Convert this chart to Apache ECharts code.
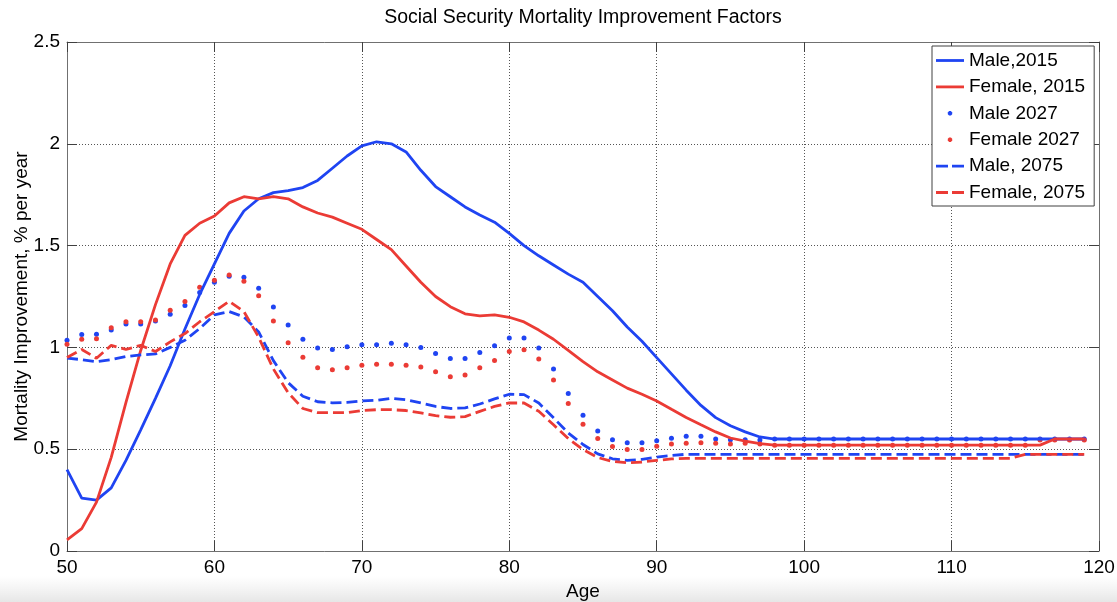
<!DOCTYPE html>
<html>
<head>
<meta charset="utf-8">
<title>Social Security Mortality Improvement Factors</title>
<script src="https://cdn.jsdelivr.net/npm/echarts@6/dist/echarts.min.js"></script>
<style>
  html, body { margin: 0; padding: 0; background: #ffffff; }
  #chart { width: 1117px; height: 602px; }
</style>
</head>
<body>
<div id="chart"></div>
<script>
// Ages (x axis)
const ages = [
  50, 51, 52, 53, 54, 55, 56, 57, 58, 59,
  60, 61, 62, 63, 64, 65, 66, 67, 68, 69,
  70, 71, 72, 73, 74, 75, 76, 77, 78, 79,
  80, 81, 82, 83, 84, 85, 86, 87, 88, 89,
  90, 91, 92, 93, 94, 95, 96, 97, 98, 99,
  100, 101, 102, 103, 104, 105, 106, 107, 108, 109,
  110, 111, 112, 113, 114, 115, 116, 117, 118, 119
];

// Mortality improvement, % per year
const male2015 = [
  0.40, 0.26, 0.25, 0.31, 0.445, 0.595, 0.75, 0.91, 1.09, 1.26,
  1.41, 1.56, 1.67, 1.73, 1.76, 1.77, 1.785, 1.82, 1.88, 1.94,
  1.99, 2.01, 2.00, 1.96, 1.87, 1.79, 1.74, 1.69, 1.65, 1.615,
  1.56, 1.50, 1.45, 1.405, 1.36, 1.32, 1.25, 1.18, 1.10, 1.03,
  0.95, 0.87, 0.79, 0.715, 0.655, 0.615, 0.585, 0.56, 0.55, 0.55,
  0.55, 0.55, 0.55, 0.55, 0.55, 0.55, 0.55, 0.55, 0.55, 0.55,
  0.55, 0.55, 0.55, 0.55, 0.55, 0.55, 0.55, 0.55, 0.55, 0.55
];
const female2015 = [
  0.055, 0.11, 0.24, 0.46, 0.73, 0.985, 1.21, 1.41, 1.55, 1.61,
  1.645, 1.71, 1.74, 1.73, 1.74, 1.73, 1.69, 1.66, 1.64, 1.61,
  1.58, 1.53, 1.48, 1.40, 1.32, 1.25, 1.20, 1.165, 1.155, 1.16,
  1.148, 1.125, 1.085, 1.04, 0.985, 0.93, 0.88, 0.84, 0.80, 0.77,
  0.737, 0.696, 0.656, 0.62, 0.585, 0.555, 0.54, 0.527, 0.52, 0.52,
  0.52, 0.52, 0.52, 0.52, 0.52, 0.52, 0.52, 0.52, 0.52, 0.52,
  0.52, 0.52, 0.52, 0.52, 0.52, 0.52, 0.52, 0.55, 0.55, 0.55
];
const male2027 = [
  1.035, 1.063, 1.065, 1.085, 1.115, 1.115, 1.13, 1.163, 1.206, 1.27,
  1.32, 1.35, 1.345, 1.29, 1.198, 1.11, 1.04, 0.997, 0.99, 1.003,
  1.013, 1.013, 1.02, 1.013, 1.0, 0.97, 0.946, 0.946, 0.975, 1.008,
  1.046, 1.046, 0.997, 0.894, 0.774, 0.667, 0.59, 0.547, 0.532, 0.532,
  0.542, 0.554, 0.563, 0.563, 0.55, 0.547, 0.547, 0.545, 0.55, 0.55,
  0.55, 0.55, 0.55, 0.55, 0.55, 0.55, 0.55, 0.55, 0.55, 0.55,
  0.55, 0.55, 0.55, 0.55, 0.55, 0.55, 0.55, 0.55, 0.55, 0.55
];
const female2027 = [
  1.015, 1.04, 1.043, 1.096, 1.126, 1.126, 1.135, 1.183, 1.226, 1.296,
  1.33, 1.355, 1.325, 1.254, 1.13, 1.023, 0.952, 0.90, 0.89, 0.90,
  0.912, 0.917, 0.917, 0.912, 0.904, 0.88, 0.856, 0.864, 0.90, 0.936,
  0.98, 0.989, 0.943, 0.84, 0.725, 0.622, 0.552, 0.513, 0.498, 0.498,
  0.515, 0.526, 0.529, 0.532, 0.529, 0.526, 0.529, 0.525, 0.52, 0.52,
  0.52, 0.52, 0.52, 0.52, 0.52, 0.52, 0.52, 0.52, 0.52, 0.52,
  0.52, 0.52, 0.52, 0.52, 0.52, 0.52, 0.545, 0.545, 0.545, 0.545
];
const male2075 = [
  0.947, 0.94, 0.93, 0.94, 0.955, 0.963, 0.968, 1.0, 1.035, 1.093,
  1.16, 1.176, 1.15, 1.076, 0.935, 0.827, 0.76, 0.733, 0.728, 0.73,
  0.737, 0.74, 0.75, 0.743, 0.727, 0.71, 0.70, 0.703, 0.722, 0.747,
  0.77, 0.768, 0.727, 0.654, 0.58, 0.523, 0.477, 0.453, 0.445, 0.45,
  0.461, 0.469, 0.475, 0.475, 0.475, 0.475, 0.475, 0.475, 0.475, 0.475,
  0.475, 0.475, 0.475, 0.475, 0.475, 0.475, 0.475, 0.475, 0.475, 0.475,
  0.475, 0.475, 0.475, 0.475, 0.475, 0.475, 0.475, 0.475, 0.475, 0.475
];
const female2075 = [
  0.95, 0.99, 0.947, 1.01, 0.99, 1.01, 0.98, 1.027, 1.068, 1.126,
  1.176, 1.226, 1.176, 1.05, 0.894, 0.777, 0.70, 0.68, 0.68, 0.68,
  0.69, 0.694, 0.694, 0.69, 0.678, 0.665, 0.657, 0.66, 0.686, 0.71,
  0.727, 0.727, 0.686, 0.62, 0.552, 0.498, 0.459, 0.44, 0.433, 0.437,
  0.445, 0.452, 0.455, 0.455, 0.455, 0.455, 0.455, 0.455, 0.455, 0.455,
  0.455, 0.455, 0.455, 0.455, 0.455, 0.455, 0.455, 0.455, 0.455, 0.455,
  0.455, 0.455, 0.455, 0.455, 0.455, 0.475, 0.475, 0.475, 0.475, 0.475
];

const seriesNames = ['Male,2015', 'Female, 2015', 'Male 2027', 'Female 2027', 'Male, 2075', 'Female, 2075'];
const xTicks = { min: 50, max: 120, step: 10 };
const yTicks = { min: 0, max: 2.5, step: 0.5 };

const BLUE = '#1f44f2';
const RED = '#eb3b35';
const FONT = '"Liberation Sans", Arial, Helvetica, sans-serif';

const pairs = (vals) => ages.map((a, i) => [a, vals[i]]);

// Legend glyphs: the two zero-length corner points fix a 28x6 box
const BOX = 'M0,0L0,0M28,6L28,6';
const ICON_SOLID = 'path://' + BOX + 'M0,1.6H28V4.4H0Z';
const ICON_DASH = 'path://' + BOX + 'M0,1.6H12V4.4H0ZM16,1.6H28V4.4H16Z';
const ICON_DOT = 'path://' + BOX + 'M13.1,0.8L14.9,0.8L16.2,2.1L16.2,3.9L14.9,5.2L13.1,5.2L11.8,3.9L11.8,2.1Z';

const chart = echarts.init(document.getElementById('chart'), null, { renderer: 'canvas' });

const lineSeries = (name, vals, color, type) => ({
  name, type: 'line', data: pairs(vals),
  symbol: 'none', showSymbol: false,
  lineStyle: { color, width: 2.8, type },
  itemStyle: { color },
  xAxisIndex: 0, yAxisIndex: 0,
  animation: false, silent: true
});
const dotSeries = (name, vals, color) => ({
  name, type: 'scatter', data: pairs(vals),
  symbol: 'circle', symbolSize: 5,
  itemStyle: { color, opacity: 1 },
  xAxisIndex: 0, yAxisIndex: 0,
  animation: false, silent: true
});

const axisCommon = {
  axisLine: { show: true, onZero: false, lineStyle: { color: '#707070', width: 1 } },
  axisTick: { show: true, inside: true, length: 10, lineStyle: { color: '#404040', width: 1 } }
};

chart.setOption({
  backgroundColor: '#ffffff',
  animation: false,
  textStyle: { fontFamily: FONT },
  title: {
    text: 'Social Security Mortality Improvement Factors',
    left: 583, top: 8, textAlign: 'center', padding: 0,
    textStyle: { fontFamily: FONT, fontSize: 19.5, fontWeight: 'normal', color: '#000' }
  },
  grid: {
    left: 67, right: 18, top: 42, bottom: 51,
    containLabel: false, outerBoundsMode: 'none'
  },
  legend: {
    orient: 'vertical',
    left: 932, top: 46,
    padding: [4, 9, 3, 4],
    itemWidth: 28, itemHeight: 6, itemGap: 5.4,
    backgroundColor: '#ffffff',
    borderColor: '#404040', borderWidth: 1, borderRadius: 0,
    selectedMode: false,
    textStyle: { fontFamily: FONT, fontSize: 19, color: '#000', lineHeight: 21 },
    data: [
      { name: seriesNames[0], icon: ICON_SOLID, itemStyle: { color: BLUE, borderWidth: 0 } },
      { name: seriesNames[1], icon: ICON_SOLID, itemStyle: { color: RED, borderWidth: 0 } },
      { name: seriesNames[2], icon: ICON_DOT, itemStyle: { color: BLUE, borderWidth: 0 } },
      { name: seriesNames[3], icon: ICON_DOT, itemStyle: { color: RED, borderWidth: 0 } },
      { name: seriesNames[4], icon: ICON_DASH, itemStyle: { color: BLUE, borderWidth: 0 } },
      { name: seriesNames[5], icon: ICON_DASH, itemStyle: { color: RED, borderWidth: 0 } }
    ]
  },
  xAxis: [
    Object.assign({
      type: 'value', position: 'bottom',
      min: xTicks.min, max: xTicks.max, interval: xTicks.step,
      name: 'Age', nameLocation: 'middle', nameGap: 31, nameMoveOverlap: false,
      nameTextStyle: { fontFamily: FONT, fontSize: 19, color: '#000' },
      axisLabel: { show: true, margin: 7, fontFamily: FONT, fontSize: 19, color: '#000' },
      splitLine: { show: true, lineStyle: { color: '#555', width: 1, type: [1, 2] } }
    }, axisCommon),
    Object.assign({
      type: 'value', position: 'top',
      min: xTicks.min, max: xTicks.max, interval: xTicks.step,
      axisLabel: { show: false }, splitLine: { show: false }
    }, axisCommon)
  ],
  yAxis: [
    Object.assign({
      type: 'value', position: 'left',
      min: yTicks.min, max: yTicks.max, interval: yTicks.step,
      name: 'Mortality Improvement, % per year', nameLocation: 'middle',
      nameGap: 36, nameMoveOverlap: false,
      nameTextStyle: { fontFamily: FONT, fontSize: 19, color: '#000' },
      axisLabel: { show: true, margin: 7, fontFamily: FONT, fontSize: 19, color: '#000' },
      splitLine: { show: true, lineStyle: { color: '#555', width: 1, type: [1, 2] } }
    }, axisCommon),
    Object.assign({
      type: 'value', position: 'right',
      min: yTicks.min, max: yTicks.max, interval: yTicks.step,
      axisLabel: { show: false }, splitLine: { show: false }
    }, axisCommon)
  ],
  graphic: [{
    type: 'rect', silent: true, z: -10,
    shape: { x: 0, y: 576, width: 1117, height: 26 },
    style: {
      fill: new echarts.graphic.LinearGradient(0, 0, 0, 1, [
        { offset: 0, color: 'rgba(235,235,235,0)' },
        { offset: 1, color: 'rgba(230,230,230,1)' }
      ])
    }
  }],
  series: [
    lineSeries(seriesNames[0], male2015, BLUE, 'solid'),
    lineSeries(seriesNames[1], female2015, RED, 'solid'),
    dotSeries(seriesNames[2], male2027, BLUE),
    dotSeries(seriesNames[3], female2027, RED),
    lineSeries(seriesNames[4], male2075, BLUE, [11, 5]),
    lineSeries(seriesNames[5], female2075, RED, [11, 5])
  ]
});
</script>
</body>
</html>
